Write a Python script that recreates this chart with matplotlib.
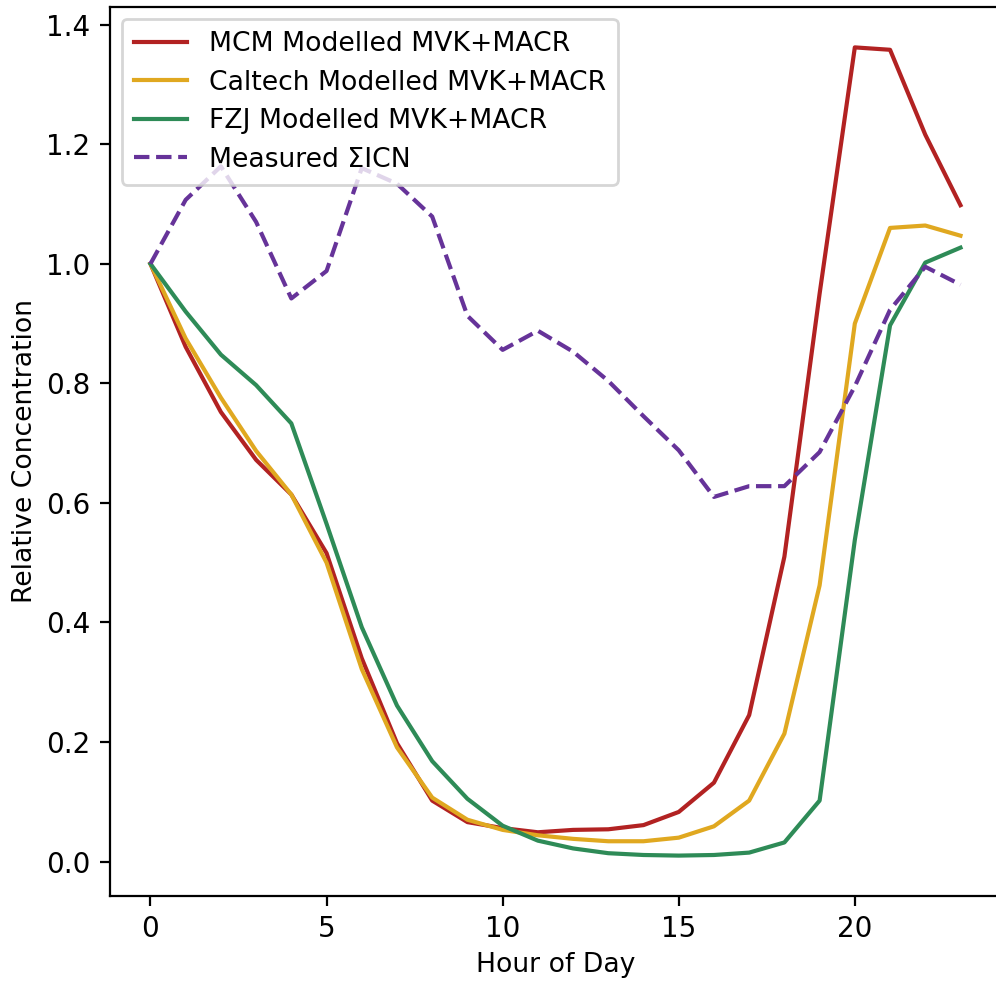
import matplotlib
matplotlib.use("Agg")
import matplotlib.pyplot as plt

hours = list(range(24))
mcm = [1.0, 0.861, 0.752, 0.672, 0.614, 0.516, 0.34, 0.198, 0.102, 0.066, 0.056, 0.049,
       0.053, 0.054, 0.061, 0.083, 0.132, 0.245, 0.51, 0.95, 1.362, 1.358, 1.216, 1.098]
caltech = [1.0, 0.875, 0.776, 0.687, 0.614, 0.50, 0.322, 0.191, 0.107, 0.07, 0.053, 0.044,
           0.038, 0.034, 0.034, 0.04, 0.059, 0.102, 0.214, 0.462, 0.90, 1.06, 1.064, 1.047]
fzj = [1.0, 0.92, 0.848, 0.797, 0.733, 0.565, 0.392, 0.261, 0.168, 0.105, 0.06, 0.035,
       0.022, 0.014, 0.011, 0.01, 0.011, 0.015, 0.032, 0.102, 0.538, 0.897, 1.002, 1.027]
measured = [1.0, 1.107, 1.163, 1.07, 0.942, 0.988, 1.16, 1.134, 1.079, 0.913, 0.856, 0.888,
            0.853, 0.804, 0.745, 0.688, 0.61, 0.628, 0.628, 0.685, 0.795, 0.923, 0.995, 0.965]

labels = ["MCM Modelled MVK+MACR", "Caltech Modelled MVK+MACR",
          "FZJ Modelled MVK+MACR", "Measured \u03a3ICN"]

fig = plt.figure(figsize=(4.98, 4.915), dpi=200)
ax = fig.add_axes([0.1104, 0.0885, 0.8946, 0.9044])
ax.plot(hours, mcm, color="#b22222", label=labels[0])
ax.plot(hours, caltech, color="#e0a820", label=labels[1])
ax.plot(hours, fzj, color="#2e8b57", label=labels[2])
ax.plot(hours, measured, color="#663399", linestyle="--", label=labels[3])
ax.set_xlabel("Hour of Day", fontsize=9.6, labelpad=3)
ax.set_ylabel("Relative Concentration", fontsize=9.6, labelpad=3)
ax.set_xticks([0, 5, 10, 15, 20])
ax.legend(loc="upper left", fontsize=9.6, labelspacing=0.47, borderpad=0.45,
          borderaxespad=0.45)
fig.savefig("out.png", dpi=200)
